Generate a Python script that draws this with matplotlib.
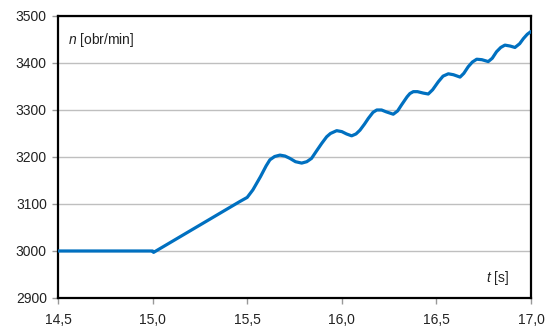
import matplotlib.pyplot as plt
from matplotlib.ticker import FuncFormatter, MultipleLocator

# speed of the machine over time
t = [14.5, 15.0, 15.005, 15.46, 15.50, 15.53, 15.57, 15.60, 15.62, 15.645,
     15.673, 15.70, 15.726, 15.755, 15.788, 15.815, 15.84, 15.865, 15.894,
     15.92, 15.94, 15.973, 16.00, 16.025, 16.052, 16.075, 16.096, 16.12,
     16.14, 16.165, 16.185, 16.21, 16.235, 16.272, 16.295, 16.316, 16.345,
     16.36, 16.378, 16.40, 16.43, 16.457, 16.48, 16.51, 16.535, 16.563,
     16.59, 16.625, 16.645, 16.668, 16.69, 16.713, 16.74, 16.774, 16.795,
     16.818, 16.84, 16.862, 16.89, 16.915, 16.94, 16.96, 16.98, 17.0]
n = [3000, 3000, 2997, 3105, 3114, 3130, 3158, 3181, 3194, 3201,
     3204, 3202, 3197, 3190, 3187, 3190, 3197, 3212, 3229,
     3243, 3250, 3256, 3254, 3249, 3245, 3249, 3257, 3270,
     3282, 3295, 3300, 3300, 3296, 3291, 3298, 3311, 3328,
     3335, 3339, 3339, 3336, 3334, 3343, 3360, 3372, 3377,
     3375, 3370, 3378, 3392, 3402, 3408, 3407, 3403, 3410,
     3424, 3433, 3438, 3436, 3433, 3441, 3452, 3461, 3467]

plt.rcParams['font.family'] = ['Liberation Sans', 'DejaVu Sans']
plt.rcParams['mathtext.fontset'] = 'custom'
plt.rcParams['mathtext.it'] = 'Liberation Sans:italic'
plt.rcParams['mathtext.rm'] = 'Liberation Sans'

fig = plt.figure(figsize=(5.48, 3.26), dpi=100)
ax = fig.add_axes([0.1058, 0.0859, 0.8632, 0.8651])

ax.plot(t, n, color='#0070C0', lw=2.3, solid_joinstyle='round',
        solid_capstyle='round', zorder=3)

ax.set_xlim(14.5, 17.0)
ax.set_ylim(2900, 3500)
ax.xaxis.set_major_locator(MultipleLocator(0.5))
ax.yaxis.set_major_locator(MultipleLocator(100))
ax.xaxis.set_major_formatter(FuncFormatter(lambda v, p: f'{v:.1f}'.replace('.', ',')))
ax.yaxis.set_major_formatter(FuncFormatter(lambda v, p: f'{v:.0f}'))

ax.grid(axis='y', color='#BFBFBF', lw=1)
ax.set_axisbelow(True)
for s in ax.spines.values():
    s.set_color('black')
    s.set_linewidth(1.6)

ax.tick_params(axis='both', direction='out', length=4, width=1, color='#999999',
               labelsize=10, labelcolor='#222222')
ax.tick_params(axis='y', pad=4)
ax.tick_params(axis='x', pad=7)

ax.text(0.022, 0.915, r'$n$ [obr/min]', transform=ax.transAxes, fontsize=10,
        color='#222222', va='center')
ax.text(0.905, 0.07, r'$t$ [s]', transform=ax.transAxes, fontsize=10,
        color='#222222', va='center')

fig.savefig('out.png', dpi=100)
